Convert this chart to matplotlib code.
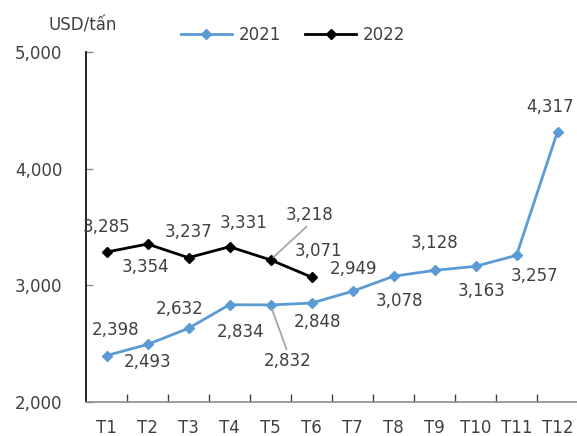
import matplotlib
matplotlib.use("Agg")
import matplotlib.pyplot as plt
from matplotlib.ticker import FuncFormatter

# monthly price, USD/tan
months = ["T1", "T2", "T3", "T4", "T5", "T6", "T7", "T8", "T9", "T10", "T11", "T12"]
y2021 = [2398, 2493, 2632, 2834, 2832, 2848, 2949, 3078, 3128, 3163, 3257, 4317]
y2022 = [3285, 3354, 3237, 3331, 3218, 3071]

# label offsets in pixels (dx, dy) relative to each point
off2021 = [(9, 26), (0, -18), (-9, 19), (11, -27), (17, -56), (6, -19),
           (1, 22), (6, -25), (0, 27), (6, -25), (18, -21), (-7, 25)]
off2022 = [(0, 25), (-2, -23), (0, 26), (14, 24), (39, 45), (7, 26)]
leader2021 = [4]
leader2022 = [4]

blue = "#5B9BD5"
txt = "#404040"
fs = 12
plt.rcParams["font.family"] = ["DejaVu Sans"]

fig = plt.figure(figsize=(5.77, 4.36), dpi=100)
ax = fig.add_axes([86 / 577, 34 / 436, 492 / 577, 350 / 436])

x = list(range(len(months)))
ax.plot(x, y2021, color=blue, lw=2.0, marker="D", ms=5.5, label="2021", zorder=3)
ax.plot(x[:len(y2022)], y2022, color="black", lw=2.0, marker="D", ms=5.5, label="2022", zorder=3)


def label(xs, ys, offs, leaders):
    for i, (xi, yi) in enumerate(zip(xs, ys)):
        dx, dy = offs[i]
        kw = {}
        if i in leaders:
            kw["arrowprops"] = dict(arrowstyle="-", color="#A6A6A6", lw=1.3,
                                    shrinkA=0, shrinkB=3,
                                    relpos=(0.5, 0) if dy > 0 else (0.5, 1))
        ax.annotate(f"{yi:,}", xy=(xi, yi), xytext=(dx, dy), textcoords="offset pixels",
                    ha="center", va="center", fontsize=fs, color=txt, **kw)


label(x, y2021, off2021, leader2021)
label(x[:len(y2022)], y2022, off2022, leader2022)

ax.set_xlim(-0.5, 11.5)
ax.set_ylim(2000, 5000)
ax.set_yticks([2000, 3000, 4000, 5000])
ax.yaxis.set_major_formatter(FuncFormatter(lambda v, p: f"{int(v):,}"))
ax.set_xticks(x)
ax.set_xticklabels(months)
ax.set_xticks([i + 0.5 for i in range(len(months) - 1)], minor=True)

for s in ["top", "right"]:
    ax.spines[s].set_visible(False)
ax.spines["left"].set_color("black")
ax.spines["left"].set_linewidth(1.2)
ax.spines["bottom"].set_color("#8C8C8C")
ax.spines["bottom"].set_linewidth(1.2)

ax.tick_params(axis="y", direction="in", length=5, color="#8C8C8C", width=1,
               labelsize=fs, labelcolor=txt, pad=17)
ax.tick_params(axis="x", which="major", length=0, labelsize=fs, labelcolor=txt, pad=12)
ax.tick_params(axis="x", which="minor", direction="in", length=6, color="#404040", width=1)

fig.text(83 / 577, 1 - 25 / 436, "USD/tấn", ha="center", va="center", fontsize=fs, color=txt)

leg = ax.legend(loc="center", bbox_to_anchor=(293 / 577, 1 - 35 / 436),
                bbox_transform=fig.transFigure, ncol=2, frameon=False,
                fontsize=fs, handlelength=3.1, columnspacing=1.4, handletextpad=0.4)
for t in leg.get_texts():
    t.set_color(txt)

fig.savefig("out.png", dpi=100)
